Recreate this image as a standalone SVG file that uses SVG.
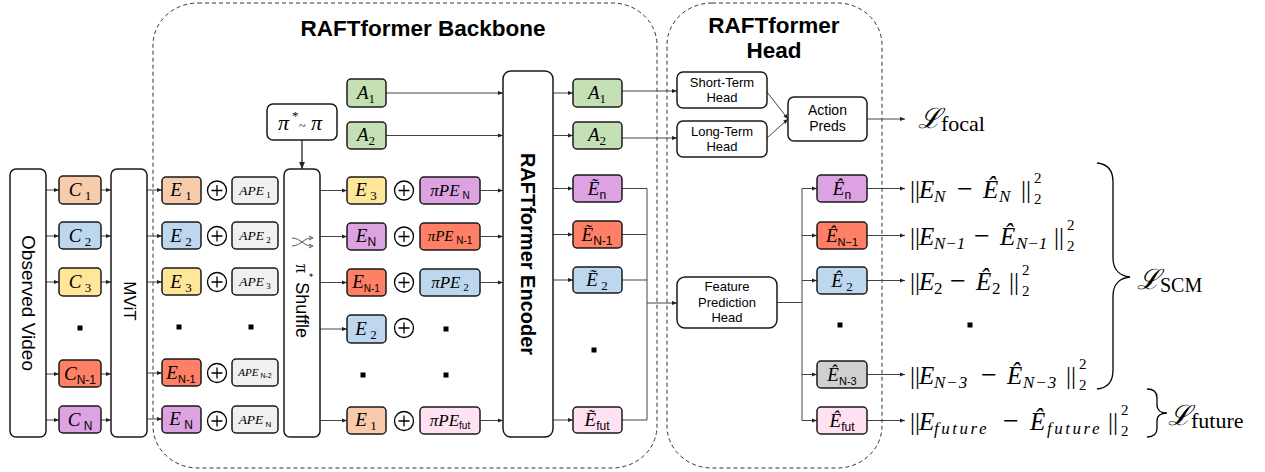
<svg xmlns="http://www.w3.org/2000/svg" width="1265" height="472" viewBox="0 0 1265 472">
<style>
.bx{stroke:#1a1a1a;stroke-width:1.5}
.big{fill:#fff;stroke:#1a1a1a;stroke-width:1.5}
.ln{fill:none;stroke:#444;stroke-width:1}
.dash{fill:none;stroke:#333;stroke-width:1;stroke-dasharray:4 3}
.mi{font-family:"Liberation Serif","DejaVu Serif",serif;font-style:italic;font-size:19px;fill:#000}
.sb{font-family:"Liberation Sans",Arial,sans-serif;font-style:normal;font-size:12px}
.sd{font-family:"Liberation Serif",serif;font-style:normal;font-size:13px}
.ape{font-family:"Liberation Serif",serif;font-style:italic;font-size:13.5px}
.lbl{font-family:"Liberation Sans",Arial,sans-serif;font-size:13px;fill:#000}
.rot{font-family:"Liberation Sans",Arial,sans-serif;font-size:19px;fill:#000}
.title{font-family:"Liberation Sans",Arial,sans-serif;font-weight:bold;font-size:22.5px;fill:#000}
.fm{font-family:"Liberation Serif",serif;font-size:25px;fill:#000}
.fi{font-style:italic}
.fs{font-style:italic;font-size:17px}
.mn{font-size:28px}
.f2{font-family:"Liberation Serif",serif;font-size:15px}
.scr{font-family:"DejaVu Serif",serif;font-style:italic;font-size:28px}
.rm{font-family:"Liberation Serif",serif;font-size:22px}
.dot{fill:#000}
</style>
<defs>
<marker id="ar" viewBox="0 0 6 6" refX="6" refY="3" markerWidth="5" markerHeight="5" markerUnits="userSpaceOnUse" orient="auto"><path d="M0,0.5 L6,3 L0,5.5 z" fill="#222"/></marker>
<marker id="ar2" viewBox="0 0 6 6" refX="6" refY="3" markerWidth="7" markerHeight="7" markerUnits="userSpaceOnUse" orient="auto"><path d="M0,0.5 L6,3 L0,5.5 z" fill="#222"/></marker>
</defs>

<!-- dashed containers -->
<g id="backbone">
<rect class="dash" x="153" y="3" width="504" height="465" rx="45" ry="42"/>
<text class="title" x="423" y="36" text-anchor="middle">RAFTformer Backbone</text>
</g>
<g id="head">
<rect class="dash" x="667" y="3" width="215" height="465" rx="45" ry="42"/>
<text class="title" x="774" y="33" text-anchor="middle">RAFTformer</text>
<text class="title" x="774" y="58" text-anchor="middle">Head</text>
</g>

<!-- connectors -->
<g id="connectors" class="ln">
<path d="M46,190 H59" marker-end="url(#ar)"/>
<path d="M46,236 H59" marker-end="url(#ar)"/>
<path d="M46,282 H59" marker-end="url(#ar)"/>
<path d="M46,374 H59" marker-end="url(#ar)"/>
<path d="M46,420 H59" marker-end="url(#ar)"/>
<path d="M101,190 H111" marker-end="url(#ar)"/>
<path d="M101,236 H111" marker-end="url(#ar)"/>
<path d="M101,282 H111" marker-end="url(#ar)"/>
<path d="M101,374 H111" marker-end="url(#ar)"/>
<path d="M101,420 H111" marker-end="url(#ar)"/>
<path d="M147,190 H162" marker-end="url(#ar)"/>
<path d="M147,236 H162" marker-end="url(#ar)"/>
<path d="M147,282 H162" marker-end="url(#ar)"/>
<path d="M147,373 H162" marker-end="url(#ar)"/>
<path d="M147,419 H162" marker-end="url(#ar)"/>
<path d="M302,140 V169" stroke-width="1.5" marker-end="url(#ar2)"/>
<path d="M320,190.5 H347" marker-end="url(#ar)"/>
<path d="M320,236.5 H347" marker-end="url(#ar)"/>
<path d="M320,282.5 H347" marker-end="url(#ar)"/>
<path d="M320,329 H347" marker-end="url(#ar)"/>
<path d="M320,420.5 H347" marker-end="url(#ar)"/>
<path d="M386,93 H503" marker-end="url(#ar)"/>
<path d="M386,135.5 H503" marker-end="url(#ar)"/>
<path d="M480,190.5 H503" marker-end="url(#ar)"/>
<path d="M480,236.5 H503" marker-end="url(#ar)"/>
<path d="M480,282.5 H503" marker-end="url(#ar)"/>
<path d="M480,420.5 H503" marker-end="url(#ar)"/>
<path d="M553,93 H573" marker-end="url(#ar)"/>
<path d="M553,135.5 H573" marker-end="url(#ar)"/>
<path d="M553,188.5 H573" marker-end="url(#ar)"/>
<path d="M553,234.5 H573" marker-end="url(#ar)"/>
<path d="M553,280 H573" marker-end="url(#ar)"/>
<path d="M553,420 H573" marker-end="url(#ar)"/>
<path d="M622,91 H677" marker-end="url(#ar)"/>
<path d="M622,138 H677" marker-end="url(#ar)"/>
<path d="M622,188.5 H647 V420 H622 M622,234.5 H647 M622,280 H647"/>
<path d="M647,303 H677" marker-end="url(#ar)"/>
<path d="M767,92 L788,119" marker-end="url(#ar)"/>
<path d="M767,138 L788,119" marker-end="url(#ar)"/>
<path d="M867,119 H905" marker-end="url(#ar)"/>
<path d="M777,302.5 H802 M802,188.5 V420.5"/>
<path d="M802,188.5 H817" marker-end="url(#ar)"/>
<path d="M802,235.5 H817" marker-end="url(#ar)"/>
<path d="M802,280.5 H817" marker-end="url(#ar)"/>
<path d="M802,374.5 H817" marker-end="url(#ar)"/>
<path d="M802,420.5 H817" marker-end="url(#ar)"/>
<path d="M867,188.5 H905" marker-end="url(#ar)"/>
<path d="M867,235.5 H905" marker-end="url(#ar)"/>
<path d="M867,280.5 H905" marker-end="url(#ar)"/>
<path d="M867,374.5 H905" marker-end="url(#ar)"/>
<path d="M867,420.5 H905" marker-end="url(#ar)"/>
</g>

<!-- large blocks -->
<g id="observed-video">
<rect class="big" x="10" y="169" width="36" height="268" rx="6"/>
<text class="rot" transform="rotate(90 28 303)" x="28" y="303" text-anchor="middle" dominant-baseline="central">Observed Video</text>
</g>
<g id="mvit">
<rect class="big" x="111" y="169" width="36" height="268" rx="6"/>
<text class="rot" style="font-size:17px" transform="rotate(90 129 301)" x="129" y="301" text-anchor="middle" dominant-baseline="central">MViT</text>
</g>
<g id="perm">
<rect class="big" x="267" y="104" width="70" height="36" rx="6"/>
<text class="mi" style="font-size:22px" y="130"><tspan x="278">π</tspan><tspan x="292" dy="-10" style="font-size:13px;font-style:normal">*</tspan><tspan x="299" dy="10" style="font-size:12px;font-style:normal">~</tspan><tspan x="311">π</tspan></text>
</g>
<g id="shuffle">
<rect class="big" x="284" y="169" width="36" height="268" rx="6"/>
<path d="M292,238 C300,238 304,246 311,246 M292,246 C300,246 304,238 311,238" fill="none" stroke="#555" stroke-width="1"/>
<path d="M309,244 L313,246 L309,248 M309,236 L313,238 L309,240" fill="none" stroke="#555" stroke-width="1"/>
<text class="rot" style="font-size:18px" transform="rotate(90 302 301)" x="302" y="301" text-anchor="middle" dominant-baseline="central"><tspan style="font-family:'Liberation Serif',serif">π</tspan><tspan style="font-size:11px" dy="-7">*</tspan><tspan dy="7"> Shuffle</tspan></text>
</g>
<g id="encoder">
<rect class="big" x="503" y="71" width="50" height="366" rx="8"/>
<text class="rot" style="font-size:20px;font-weight:bold" transform="rotate(90 528 254)" x="528" y="254" text-anchor="middle" dominant-baseline="central">RAFTformer Encoder</text>
</g>

<!-- C column -->
<g id="c1"><rect class="bx" x="59" y="176" width="42" height="28" rx="4" fill="#f8cbad"/><text class="mi" x="80" y="196" text-anchor="middle">C<tspan class="sd" dy="4"> 1</tspan></text></g>
<g id="c2"><rect class="bx" x="59" y="222" width="42" height="27" rx="4" fill="#bdd7ee"/><text class="mi" x="80" y="242" text-anchor="middle">C<tspan class="sd" dy="4"> 2</tspan></text></g>
<g id="c3"><rect class="bx" x="59" y="268" width="42" height="28" rx="4" fill="#ffe699"/><text class="mi" x="80" y="288" text-anchor="middle">C<tspan class="sd" dy="4"> 3</tspan></text></g>
<rect class="dot" x="77.5" y="325.5" width="5" height="5"/>
<g id="cn1"><rect class="bx" x="59" y="360" width="42" height="27" rx="4" fill="#ff8066"/><text class="mi" x="80" y="380" text-anchor="middle">C<tspan class="sb" dy="4">N-1</tspan></text></g>
<g id="cn"><rect class="bx" x="59" y="406" width="42" height="27" rx="4" fill="#dca2e2"/><text class="mi" x="80" y="426" text-anchor="middle">C<tspan class="sb" dy="4"> N</tspan></text></g>

<!-- E column -->
<g id="e1"><rect class="bx" x="162" y="177" width="39" height="27" rx="4" fill="#f8cbad"/><text class="mi" x="181" y="196" text-anchor="middle">E<tspan class="sd" dy="4"> 1</tspan></text></g>
<g id="e2"><rect class="bx" x="162" y="222" width="39" height="27" rx="4" fill="#bdd7ee"/><text class="mi" x="181" y="242" text-anchor="middle">E<tspan class="sd" dy="4"> 2</tspan></text></g>
<g id="e3"><rect class="bx" x="162" y="268" width="39" height="27" rx="4" fill="#ffe699"/><text class="mi" x="181" y="288" text-anchor="middle">E<tspan class="sd" dy="4"> 3</tspan></text></g>
<rect class="dot" x="176.5" y="324.5" width="5" height="5"/>
<g id="en1"><rect class="bx" x="162" y="359" width="39" height="27" rx="4" fill="#ff8066"/><text class="mi" x="181" y="379" text-anchor="middle">E<tspan class="sb" style="font-size:11px" dy="4">N-1</tspan></text></g>
<g id="en"><rect class="bx" x="162" y="406" width="39" height="27" rx="4" fill="#dca2e2"/><text class="mi" x="181" y="425" text-anchor="middle">E<tspan class="sb" dy="4"> N</tspan></text></g>

<!-- plus circles col 1 -->
<g id="plus1" fill="none" stroke="#000" stroke-width="1.3">
<circle cx="217" cy="190.5" r="9.5"/><path d="M211.5,190.5 H222.5 M217,185 V196"/>
<circle cx="217" cy="236" r="9.5"/><path d="M211.5,236 H222.5 M217,230.5 V241.5"/>
<circle cx="217" cy="282" r="9.5"/><path d="M211.5,282 H222.5 M217,276.5 V287.5"/>
<circle cx="217" cy="373" r="9.5"/><path d="M211.5,373 H222.5 M217,367.5 V378.5"/>
<circle cx="217" cy="421" r="9.5"/><path d="M211.5,421 H222.5 M217,415.5 V426.5"/>
</g>

<!-- APE column -->
<g id="ape1"><rect class="bx" x="232" y="177" width="46" height="27" rx="4" fill="#f0f0f0"/><text class="ape" x="255" y="195" text-anchor="middle">APE<tspan class="sd" style="font-size:9px" dy="3"> 1</tspan></text></g>
<g id="ape2"><rect class="bx" x="232" y="222" width="46" height="27" rx="4" fill="#f0f0f0"/><text class="ape" x="255" y="240" text-anchor="middle">APE<tspan class="sd" style="font-size:9px" dy="3"> 2</tspan></text></g>
<g id="ape3"><rect class="bx" x="232" y="268" width="46" height="27" rx="4" fill="#f0f0f0"/><text class="ape" x="255" y="286" text-anchor="middle">APE<tspan class="sd" style="font-size:9px" dy="3"> 3</tspan></text></g>
<rect class="dot" x="248.5" y="324.5" width="5" height="5"/>
<g id="apen2"><rect class="bx" x="232" y="359" width="46" height="27" rx="4" fill="#f0f0f0"/><text class="ape" style="font-size:11px" x="255" y="376" text-anchor="middle">APE<tspan class="sb" style="font-size:7px" dy="2"> N-2</tspan></text></g>
<g id="apen"><rect class="bx" x="232" y="406" width="46" height="27" rx="4" fill="#f0f0f0"/><text class="ape" x="255" y="424" text-anchor="middle">APE<tspan class="sb" style="font-size:8px" dy="3"> N</tspan></text></g>

<!-- column 2 -->
<g id="a1-in"><rect class="bx" x="347" y="79" width="39" height="28" rx="4" fill="#c5e0b4"/><text class="mi" x="366" y="99" text-anchor="middle">A<tspan class="sd" dy="4">1</tspan></text></g>
<g id="a2-in"><rect class="bx" x="347" y="122" width="39" height="27" rx="4" fill="#c5e0b4"/><text class="mi" x="366" y="141" text-anchor="middle">A<tspan class="sd" dy="4">2</tspan></text></g>
<g id="s-e3"><rect class="bx" x="347" y="177" width="39" height="27" rx="4" fill="#ffe699"/><text class="mi" x="366" y="196" text-anchor="middle">E<tspan class="sd" dy="4"> 3</tspan></text></g>
<g id="s-en"><rect class="bx" x="347" y="223" width="39" height="27" rx="4" fill="#dca2e2"/><text class="mi" x="366" y="242" text-anchor="middle">E<tspan class="sb" dy="4">N</tspan></text></g>
<g id="s-en1"><rect class="bx" x="347" y="269" width="39" height="27" rx="4" fill="#ff8066"/><text class="mi" x="366" y="288" text-anchor="middle">E<tspan class="sb" style="font-size:10px" dy="4">N-1</tspan></text></g>
<g id="s-e2"><rect class="bx" x="347" y="315" width="39" height="28" rx="4" fill="#bdd7ee"/><text class="mi" x="366" y="335" text-anchor="middle">E<tspan class="sd" dy="4"> 2</tspan></text></g>
<rect class="dot" x="360.5" y="372.5" width="5" height="5"/>
<g id="s-e1"><rect class="bx" x="347" y="407" width="39" height="27" rx="4" fill="#f8cbad"/><text class="mi" x="366" y="426" text-anchor="middle">E<tspan class="sd" dy="4"> 1</tspan></text></g>

<g id="plus2" fill="none" stroke="#000" stroke-width="1.3">
<circle cx="404" cy="190.5" r="9.5"/><path d="M398.5,190.5 H409.5 M404,185 V196"/>
<circle cx="404" cy="236.5" r="9.5"/><path d="M398.5,236.5 H409.5 M404,231 V242"/>
<circle cx="404" cy="282.5" r="9.5"/><path d="M398.5,282.5 H409.5 M404,277 V288"/>
<circle cx="404" cy="328" r="9.5"/><path d="M398.5,328 H409.5 M404,322.5 V333.5"/>
<circle cx="404" cy="421" r="9.5"/><path d="M398.5,421 H409.5 M404,415.5 V426.5"/>
</g>

<g id="ppe-n"><rect class="bx" x="420" y="177" width="60" height="27" rx="4" fill="#dca2e2"/><text class="mi" style="font-size:17px" x="450" y="196" text-anchor="middle">πPE<tspan class="sb" style="font-size:10px" dy="3"> N</tspan></text></g>
<g id="ppe-n1"><rect class="bx" x="420" y="223" width="60" height="27" rx="4" fill="#ff8066"/><text class="mi" style="font-size:15px" x="450" y="241" text-anchor="middle">πPE<tspan class="sb" style="font-size:10px" dy="3"> N-1</tspan></text></g>
<g id="ppe-2"><rect class="bx" x="420" y="269" width="60" height="27" rx="4" fill="#bdd7ee"/><text class="mi" style="font-size:17px" x="450" y="288" text-anchor="middle">πPE<tspan class="sd" style="font-size:11px" dy="3"> 2</tspan></text></g>
<rect class="dot" x="443.5" y="326.5" width="5" height="5"/>
<rect class="dot" x="443.5" y="372.5" width="5" height="5"/>
<g id="ppe-fut"><rect class="bx" x="420" y="407" width="60" height="27" rx="4" fill="#ffe1f2"/><text class="mi" style="font-size:17px" x="450" y="426" text-anchor="middle">πPE<tspan class="sb" style="font-size:10px" dy="3">fut</tspan></text></g>

<!-- encoder outputs -->
<g id="a1-out"><rect class="bx" x="573" y="79" width="49" height="28" rx="4" fill="#c5e0b4"/><text class="mi" x="597" y="99" text-anchor="middle">A<tspan class="sd" dy="4">1</tspan></text></g>
<g id="a2-out"><rect class="bx" x="573" y="122" width="49" height="27" rx="4" fill="#c5e0b4"/><text class="mi" x="597" y="141" text-anchor="middle">A<tspan class="sd" dy="4">2</tspan></text></g>
<g id="et-n"><rect class="bx" x="573" y="175" width="49" height="27" rx="4" fill="#dca2e2"/><text class="mi" x="597" y="195" text-anchor="middle">Ẽ<tspan class="sb" dy="4">n</tspan></text></g>
<g id="et-n1"><rect class="bx" x="573" y="221" width="49" height="27" rx="4" fill="#ff8066"/><text class="mi" x="597" y="241" text-anchor="middle">Ẽ<tspan class="sb" dy="4">N-1</tspan></text></g>
<g id="et-2"><rect class="bx" x="573" y="267" width="49" height="26" rx="4" fill="#bdd7ee"/><text class="mi" x="597" y="286" text-anchor="middle">Ẽ<tspan class="sd" dy="4"> 2</tspan></text></g>
<rect class="dot" x="591.5" y="347.5" width="5" height="5"/>
<g id="et-fut"><rect class="bx" x="573" y="407" width="49" height="26" rx="4" fill="#ffe1f2"/><text class="mi" x="597" y="426" text-anchor="middle">Ẽ<tspan class="sb" dy="4">fut</tspan></text></g>

<!-- head -->
<g id="short-term"><rect class="big" x="677" y="72" width="90" height="36" rx="6"/><text class="lbl" x="722" y="87" text-anchor="middle">Short-Term</text><text class="lbl" x="722" y="102" text-anchor="middle">Head</text></g>
<g id="long-term"><rect class="big" x="677" y="121" width="90" height="36" rx="6"/><text class="lbl" x="722" y="136" text-anchor="middle">Long-Term</text><text class="lbl" x="722" y="151" text-anchor="middle">Head</text></g>
<g id="action-preds"><rect class="big" x="788" y="97" width="79" height="44" rx="6"/><text class="lbl" style="font-size:14px" x="827.5" y="115" text-anchor="middle">Action</text><text class="lbl" style="font-size:14px" x="827.5" y="131" text-anchor="middle">Preds</text></g>
<g id="feature-head"><rect class="big" x="677" y="277" width="100" height="51" rx="8"/><text class="lbl" x="727" y="291" text-anchor="middle">Feature</text><text class="lbl" x="727" y="307" text-anchor="middle">Prediction</text><text class="lbl" x="727" y="322" text-anchor="middle">Head</text></g>

<g id="eh-n"><rect class="bx" x="817" y="175" width="50" height="27" rx="4" fill="#dca2e2"/><text class="mi" x="842" y="195" text-anchor="middle">Ê<tspan class="sb" dy="4">n</tspan></text></g>
<g id="eh-n1"><rect class="bx" x="817" y="222" width="50" height="27" rx="4" fill="#ff8066"/><text class="mi" x="842" y="242" text-anchor="middle">Ê<tspan class="sb" style="font-size:11px" dy="4">N−1</tspan></text></g>
<g id="eh-2"><rect class="bx" x="817" y="267" width="50" height="27" rx="4" fill="#bdd7ee"/><text class="mi" x="842" y="287" text-anchor="middle">Ê<tspan class="sd" dy="4"> 2</tspan></text></g>
<rect class="dot" x="837.5" y="322.5" width="5" height="5"/>
<g id="eh-n3"><rect class="bx" x="817" y="361" width="50" height="27" rx="4" fill="#d0d0d0"/><text class="mi" x="842" y="381" text-anchor="middle">Ê<tspan class="sb" style="font-size:11px" dy="4">N-3</tspan></text></g>
<g id="eh-fut"><rect class="bx" x="817" y="407" width="50" height="27" rx="4" fill="#ffe1f2"/><text class="mi" x="842" y="427" text-anchor="middle">Ê<tspan class="sb" dy="4">fut</tspan></text></g>

<!-- losses -->
<g id="l-focal"><text x="918" y="128"><tspan class="scr">ℒ</tspan><tspan class="rm" dy="3">focal</tspan></text></g>

<g id="f1">
<text class="fm" y="198"><tspan x="910">||</tspan><tspan class="fi" x="919">E</tspan><tspan class="fs" x="934" dy="4">N</tspan><tspan class="mn" x="957" dy="-4">−</tspan><tspan class="fi" x="983">Ê</tspan><tspan class="fs" x="999" dy="4">N</tspan><tspan x="1021" dy="-4">||</tspan></text>
<text class="f2" x="1034" y="183">2</text><text class="f2" x="1034" y="204">2</text>
</g>
<g id="f2">
<text class="fm" y="245"><tspan x="910">||</tspan><tspan class="fi" x="919">E</tspan><tspan class="fs" x="934" dy="4">N−1</tspan><tspan class="mn" x="974" dy="-4">−</tspan><tspan class="fi" x="1000">Ê</tspan><tspan class="fs" x="1016" dy="4">N−1</tspan><tspan x="1054" dy="-4">||</tspan></text>
<text class="f2" x="1067" y="230">2</text><text class="f2" x="1067" y="251">2</text>
</g>
<g id="f3">
<text class="fm" y="290"><tspan x="910">||</tspan><tspan class="fi" x="919">E</tspan><tspan class="fs" style="font-style:normal" x="934" dy="4">2</tspan><tspan class="mn" x="950" dy="-4">−</tspan><tspan class="fi" x="976">Ê</tspan><tspan class="fs" style="font-style:normal" x="992" dy="4">2</tspan><tspan x="1009" dy="-4">||</tspan></text>
<text class="f2" x="1022" y="275">2</text><text class="f2" x="1022" y="296">2</text>
</g>
<rect class="dot" x="967.5" y="322.5" width="5" height="5"/>
<g id="f5">
<text class="fm" y="384"><tspan x="910">||</tspan><tspan class="fi" x="919">E</tspan><tspan class="fs" style="letter-spacing:1px" x="934" dy="4">N−3</tspan><tspan class="mn" x="981" dy="-4">−</tspan><tspan class="fi" x="1007">Ê</tspan><tspan class="fs" style="letter-spacing:1px" x="1023" dy="4">N−3</tspan><tspan x="1066" dy="-4">||</tspan></text>
<text class="f2" x="1079" y="369">2</text><text class="f2" x="1079" y="390">2</text>
</g>
<g id="f6">
<text class="fm" y="430"><tspan x="910">||</tspan><tspan class="fi" x="919">E</tspan><tspan class="fs" style="letter-spacing:2.5px" x="934" dy="4">future</tspan><tspan class="mn" x="1003" dy="-4">−</tspan><tspan class="fi" x="1030">Ê</tspan><tspan class="fs" style="letter-spacing:2.5px" x="1047" dy="4">future</tspan><tspan x="1108" dy="-4">||</tspan></text>
<text class="f2" x="1121" y="415">2</text><text class="f2" x="1121" y="436">2</text>
</g>

<g id="l-scm">
<path d="M1097,163 C1108,164 1113,170 1113,182 V258 C1113,270 1120,276 1130,277 C1120,278 1113,284 1113,296 V370 C1113,382 1108,388 1097,389" fill="none" stroke="#000" stroke-width="1.3"/>
<text x="1137" y="289"><tspan class="scr">ℒ</tspan><tspan class="rm" style="font-size:20px" dy="3">SCM</tspan></text>
</g>
<g id="l-future">
<path d="M1147,389 C1154,389 1157,392 1157,398 V405 C1157,410 1161,413 1167,413 C1161,413 1157,416 1157,421 V428 C1157,434 1154,437 1147,437" fill="none" stroke="#000" stroke-width="1.3"/>
<text x="1168" y="425"><tspan class="scr">ℒ</tspan><tspan class="rm" dy="3">future</tspan></text>
</g>
</svg>
